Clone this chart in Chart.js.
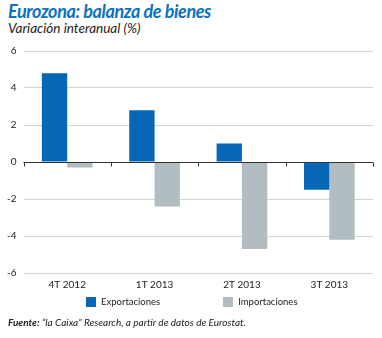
<!DOCTYPE html>
<html>
<head>
<meta charset="utf-8">
<script src="https://cdn.jsdelivr.net/npm/chart.js@4"></script>
<style>
  body { margin: 0; width: 382px; height: 338px; background: #fff; position: relative; overflow: hidden; font-family: Lato, "Open Sans", sans-serif; }
  #title { position: absolute; left: 8px; top: 0px; font-size: 18px; font-weight: bold; font-style: italic; color: #0a72bf; letter-spacing: -0.4px; }
  #sub { position: absolute; left: 8px; top: 20px; font-size: 13.5px; font-style: italic; color: #222; }
  #box { position: absolute; left: 0; top: 38px; width: 382px; height: 261px; }
  #legend { position: absolute; top: 296px; left: 86px; font-size: 9.5px; color: #222; display: flex; }
  #legend span.item { display: flex; align-items: center; margin-right: 63px; }
  #legend span.sw { display: inline-block; width: 10px; height: 10px; margin-right: 5px; }
  #src { position: absolute; left: 8px; top: 316px; font-size: 10px; font-style: italic; color: #222; }
</style>
</head>
<body>
<div id="title">Eurozona: balanza de bienes</div>
<div id="sub">Variación interanual (%)</div>
<div id="box"><canvas id="chart"></canvas></div>
<div id="legend"></div>
<div id="src"><b>Fuente:</b> “la Caixa” Research, a partir de datos de Eurostat.</div>
<script>
const categories = ['4T 2012', '1T 2013', '2T 2013', '3T 2013'];
const exportaciones = [4.8, 2.8, 1.0, -1.5];
const importaciones = [-0.3, -2.4, -4.7, -4.2];
const yTicks = [-6, -4, -2, 0, 2, 4, 6];

// zero line with small ticks between categories
const zeroLine = {
  id: 'zeroLine',
  afterDatasetsDraw(chart) {
    const { ctx, scales: { x, y }, chartArea } = chart;
    const y0 = Math.round(y.getPixelForValue(0)) + 0.5;
    ctx.save();
    ctx.strokeStyle = '#333';
    ctx.lineWidth = 1;
    ctx.beginPath();
    ctx.moveTo(chartArea.left, y0);
    ctx.lineTo(chartArea.right, y0);
    for (let i = 0; i <= categories.length; i++) {
      const px = Math.round(chartArea.left + (chartArea.right - chartArea.left) * i / categories.length) + 0.5;
      ctx.moveTo(px, y0);
      ctx.lineTo(px, y0 + 4);
    }
    ctx.stroke();
    ctx.restore();
  }
};

const chart = new Chart(document.getElementById('chart'), {
  type: 'bar',
  data: {
    labels: categories,
    datasets: [
      { label: 'Exportaciones', data: exportaciones, backgroundColor: '#0567b5' },
      { label: 'Importaciones', data: importaciones, backgroundColor: '#b2bdc2' }
    ]
  },
  options: {
    responsive: true,
    maintainAspectRatio: false,
    animation: false,
    layout: { padding: { left: 0, right: 9, top: 1, bottom: 2 } },
    datasets: { bar: { barPercentage: 1, categoryPercentage: 0.58 } },
    plugins: {
      tooltip: { enabled: false },
      legend: { display: false }
    },
    scales: {
      x: {
        grid: { display: false, drawTicks: false },
        border: { display: false },
        ticks: { color: '#222', padding: 6, font: { family: 'Lato', size: 10 } }
      },
      y: {
        min: -6, max: 6,
        afterBuildTicks(axis) { axis.ticks = yTicks.map(v => ({ value: v })); },
        grid: { color: '#d3d3d3', drawTicks: false },
        border: { display: false },
        ticks: { color: '#222', padding: 7, font: { family: 'Lato', size: 10 } }
      }
    }
  },
  plugins: [zeroLine]
});

// html legend
const lg = document.getElementById('legend');
chart.data.datasets.forEach(ds => {
  const it = document.createElement('span');
  it.className = 'item';
  it.innerHTML = '<span class="sw" style="background:' + ds.backgroundColor + '"></span>' + ds.label;
  lg.appendChild(it);
});
</script>
</body>
</html>
